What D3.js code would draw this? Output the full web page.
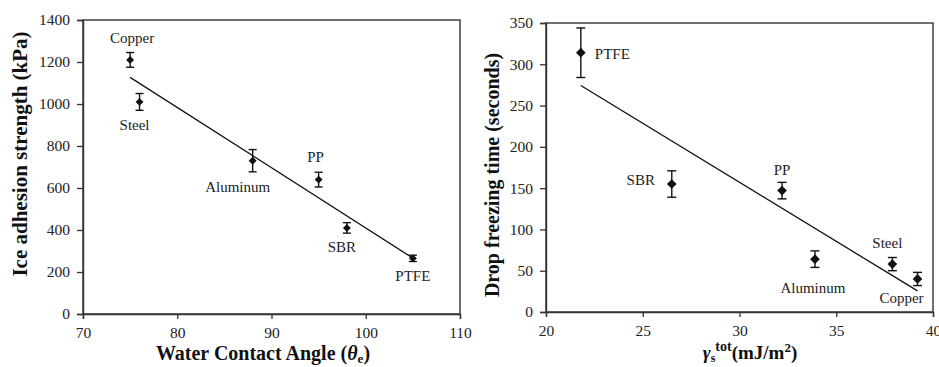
<!DOCTYPE html>
<html>
<head>
<meta charset="utf-8">
<script src="https://cdn.jsdelivr.net/npm/d3@7"></script>
<style>
  body { margin: 0; background: #fff; }
  svg text { font-family: "Liberation Serif", "Times New Roman", serif; }
  .tick text { fill: #222; }
  .lbl { font-size: 15px; fill: #222; }
  .title { font-size: 19px; font-weight: bold; fill: #111; }
</style>
</head>
<body>
<svg id="chart" width="939" height="367"></svg>
<script>
const width = 939;
const height = 367;

// materials, same order in both panels
const materials = ["Copper", "Steel", "Aluminum", "PP", "SBR", "PTFE"];

// left panel: contact angle vs ice adhesion
const contactAngle = [75, 76, 88, 95, 98, 105];
const adhesion = [1210, 1010, 730, 640, 410, 265];
const adhesionErr = [35, 40, 53, 35, 25, 15];
const angleTicks = [70, 80, 90, 100, 110];
const adhesionTicks = [0, 200, 400, 600, 800, 1000, 1200, 1400];

// right panel: surface energy vs freezing time
const surfaceEnergy = [39.2, 37.9, 33.9, 32.2, 26.5, 21.8];
const freezeTime = [40, 58, 64, 147, 155, 314];
const freezeErr = [8, 8, 10, 10, 16, 30];
const energyTicks = [20, 25, 30, 35, 40];
const freezeTicks = [0, 50, 100, 150, 200, 250, 300, 350];

// label placement relative to each point (px)
const leftLabelPos = {
  Copper: [2, -22, "middle"], Steel: [-5, 23, "middle"], Aluminum: [-15, 26, "middle"],
  PP: [-3, -23, "middle"], SBR: [-5, 19, "middle"], PTFE: [0, 18, "middle"]
};
const rightLabelPos = {
  Copper: [-16, 19, "middle"], Steel: [-5, -21, "middle"], Aluminum: [-2, 29, "middle"],
  PP: [0, -21, "middle"], SBR: [-31, -4, "middle"], PTFE: [14, 1, "start"]
};

const svg = d3.select("#chart");

function fitLine(xs, ys) {
  const mx = d3.mean(xs), my = d3.mean(ys);
  let sxy = 0, sxx = 0;
  xs.forEach((x, i) => { sxy += (x - mx) * (ys[i] - my); sxx += (x - mx) * (x - mx); });
  const b = sxy / sxx;
  return x => my + b * (x - mx);
}

function drawPanel(opt) {
  const x = d3.scaleLinear().domain(opt.xDomain).range([opt.left, opt.right]);
  const y = d3.scaleLinear().domain(opt.yDomain).range([opt.bottom, opt.top]);
  const g = svg.append("g");

  // frame
  g.append("rect")
    .attr("x", opt.left).attr("y", opt.top)
    .attr("width", opt.right - opt.left).attr("height", opt.bottom - opt.top)
    .attr("fill", "none").attr("stroke", "#333").attr("stroke-width", 1.4);

  const xAxis = g.append("g")
    .attr("transform", `translate(0,${opt.bottom})`)
    .call(d3.axisBottom(x).tickValues(opt.xTicks).tickFormat(d3.format("d")).tickSize(5).tickPadding(8));
  const yAxis = g.append("g")
    .attr("transform", `translate(${opt.left},0)`)
    .call(d3.axisLeft(y).tickValues(opt.yTicks).tickFormat(d3.format("d")).tickSize(6).tickPadding(7));
  [xAxis, yAxis].forEach(a => {
    a.attr("font-family", "Liberation Serif").attr("font-size", 15.5);
    a.select(".domain").attr("stroke", "#333").attr("stroke-width", 1.4);
    a.selectAll(".tick line").attr("stroke", "#333").attr("stroke-width", 1.3);
  });

  // trend line
  const f = fitLine(opt.xs, opt.ys);
  const x0 = d3.min(opt.xs), x1 = d3.max(opt.xs);
  g.append("line")
    .attr("x1", x(x0)).attr("y1", y(f(x0)))
    .attr("x2", x(x1)).attr("y2", y(f(x1)))
    .attr("stroke", "#111").attr("stroke-width", 1.3);

  const pts = opt.xs.map((v, i) => ({ name: materials[i], x: v, y: opt.ys[i], e: opt.errs[i] }));

  // error bars
  const eb = g.append("g").attr("stroke", "#111").attr("stroke-width", 1.4);
  pts.forEach(d => {
    const cx = x(d.x);
    eb.append("line").attr("x1", cx).attr("x2", cx).attr("y1", y(d.y - d.e)).attr("y2", y(d.y + d.e));
    [d.y - d.e, d.y + d.e].forEach(v => {
      eb.append("line").attr("x1", cx - opt.cap).attr("x2", cx + opt.cap).attr("y1", y(v)).attr("y2", y(v));
    });
  });

  // diamond markers
  g.append("g").selectAll("path")
    .data(pts)
    .join("path")
      .attr("d", d3.symbol(d3.symbolDiamond2, opt.markerSize))
      .attr("transform", d => `translate(${x(d.x)},${y(d.y)})`)
      .attr("fill", "#111");

  // point labels
  g.append("g").selectAll("text")
    .data(pts)
    .join("text")
      .attr("class", "lbl")
      .attr("x", d => x(d.x) + opt.labelPos[d.name][0])
      .attr("y", d => y(d.y) + opt.labelPos[d.name][1])
      .attr("text-anchor", d => opt.labelPos[d.name][2])
      .attr("dominant-baseline", "central")
      .text(d => d.name);

  // y title
  g.append("text")
    .attr("class", "title")
    .attr("transform", `translate(${opt.yTitleX},${opt.yTitleY}) rotate(-90)`)
    .attr("text-anchor", "middle")
    .attr("dominant-baseline", "central")
    .style("font-size", opt.yTitleSize + "px")
    .text(opt.yTitle);

  return g;
}

const left = drawPanel({
  xDomain: [70, 110], yDomain: [0, 1400],
  left: 83, right: 460, top: 20, bottom: 314,
  xTicks: angleTicks, yTicks: adhesionTicks,
  xs: contactAngle, ys: adhesion, errs: adhesionErr,
  cap: 4, markerSize: 40, labelPos: leftLabelPos,
  yTitle: "Ice adhesion strength (kPa)", yTitleX: 20, yTitleY: 154, yTitleSize: 21
});

const right = drawPanel({
  xDomain: [20, 40], yDomain: [0, 350],
  left: 546, right: 933, top: 23, bottom: 312,
  xTicks: energyTicks, yTicks: freezeTicks,
  xs: surfaceEnergy, ys: freezeTime, errs: freezeErr,
  cap: 4.5, markerSize: 60, labelPos: rightLabelPos,
  yTitle: "Drop freezing time (seconds)", yTitleX: 492, yTitleY: 175, yTitleSize: 20
});

// x titles with sub/superscripts
const t1 = left.append("text").attr("class", "title")
  .attr("x", 263).attr("y", 360).attr("text-anchor", "middle")
  .style("font-size", "20px");
t1.append("tspan").text("Water Contact Angle (");
t1.append("tspan").attr("font-style", "italic").text("θ");
t1.append("tspan").attr("font-size", "13px").attr("dy", 3).text("e");
t1.append("tspan").attr("dy", -3).text(")");

const t2 = right.append("text").attr("class", "title")
  .attr("x", 750).attr("y", 359).attr("text-anchor", "middle");
t2.append("tspan").attr("font-style", "italic").text("γ");
t2.append("tspan").attr("font-size", "12px").attr("dy", 3).text("s");
t2.append("tspan").attr("font-size", "14px").attr("dy", -11).text("tot");
t2.append("tspan").attr("dy", 8).text("(mJ/m");
t2.append("tspan").attr("font-size", "13px").attr("dy", -7).text("2");
t2.append("tspan").attr("dy", 7).text(")");
</script>
</body>
</html>
